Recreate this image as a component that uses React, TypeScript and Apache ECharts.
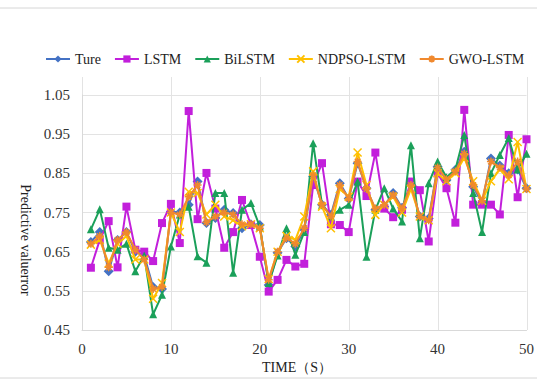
import React, { useEffect, useRef } from "react";
import * as echarts from "echarts";

const seriesNames = ["Ture", "LSTM", "BiLSTM", "NDPSO-LSTM", "GWO-LSTM"];

const ture = [0.675, 0.70, 0.60, 0.68, 0.70, 0.65, 0.64, 0.56, 0.555, 0.752,
  0.75, 0.77, 0.829, 0.723, 0.736, 0.757, 0.749, 0.71, 0.72, 0.718,
  0.565, 0.647, 0.684, 0.663, 0.706, 0.842, 0.77, 0.744, 0.825, 0.786,
  0.876, 0.812, 0.757, 0.765, 0.80, 0.762, 0.82, 0.74, 0.735, 0.867,
  0.833, 0.859, 0.905, 0.816, 0.774, 0.888, 0.87, 0.85, 0.86, 0.812];
const lstm = [0.609, 0.68, 0.728, 0.61, 0.765, 0.655, 0.65, 0.626, 0.723, 0.772,
  0.672, 1.009, 0.733, 0.851, 0.76, 0.66, 0.70, 0.782, 0.718, 0.637,
  0.548, 0.578, 0.629, 0.612, 0.619, 0.82, 0.876, 0.72, 0.718, 0.70,
  0.829, 0.792, 0.903, 0.76, 0.738, 0.757, 0.829, 0.807, 0.676, 0.85,
  0.812, 0.724, 1.012, 0.77, 0.77, 0.77, 0.745, 0.948, 0.789, 0.937];
const bilstm = [0.707, 0.758, 0.66, 0.655, 0.67, 0.60, 0.64, 0.49, 0.54, 0.663,
  0.745, 0.765, 0.638, 0.622, 0.80, 0.80, 0.596, 0.757, 0.774, 0.714,
  0.57, 0.64, 0.71, 0.642, 0.70, 0.927, 0.77, 0.74, 0.757, 0.77,
  0.829, 0.637, 0.757, 0.812, 0.76, 0.727, 0.922, 0.684, 0.825, 0.88,
  0.84, 0.86, 0.948, 0.80, 0.70, 0.85, 0.897, 0.94, 0.86, 0.90];
const ndpso = [0.668, 0.68, 0.62, 0.67, 0.69, 0.63, 0.63, 0.53, 0.57, 0.75,
  0.70, 0.803, 0.80, 0.745, 0.77, 0.74, 0.73, 0.715, 0.72, 0.71,
  0.58, 0.65, 0.69, 0.68, 0.74, 0.855, 0.765, 0.71, 0.81, 0.79,
  0.903, 0.82, 0.744, 0.77, 0.79, 0.75, 0.81, 0.74, 0.73, 0.85,
  0.83, 0.85, 0.89, 0.83, 0.78, 0.83, 0.86, 0.835, 0.93, 0.81];
const gwo = [0.67, 0.69, 0.61, 0.68, 0.70, 0.655, 0.63, 0.555, 0.56, 0.75,
  0.745, 0.79, 0.82, 0.725, 0.74, 0.75, 0.745, 0.72, 0.72, 0.71,
  0.578, 0.65, 0.685, 0.67, 0.71, 0.845, 0.77, 0.74, 0.82, 0.785,
  0.88, 0.81, 0.76, 0.77, 0.795, 0.76, 0.82, 0.74, 0.73, 0.865,
  0.835, 0.855, 0.90, 0.82, 0.78, 0.88, 0.865, 0.845, 0.88, 0.81];

const colors = ["#4472C4", "#C21FDB", "#1BA05A", "#FFC000", "#F0892E"];
const symbols = [
  "diamond",
  "rect",
  "triangle",
  "path://M0,0L10,10M10,0L0,10",
  "path://M5,0L5,10M0,5L10,5M1.5,1.5L8.5,8.5M8.5,1.5L1.5,8.5",
];
const allData = [ture, lstm, bilstm, ndpso, gwo];

const FONT = "Liberation Serif";

export default function App() {
  const ref = useRef<HTMLDivElement>(null);
  useEffect(() => {
    if (!ref.current) return;
    const chart = echarts.init(ref.current, null, { renderer: "svg" });
    const series = allData.map((arr, si) => ({
      name: seriesNames[si],
      type: "line",
      xAxisIndex: 0,
      yAxisIndex: 0,
      data: arr.map((v, i) => [i + 1, v]),
      symbol: symbols[si],
      symbolSize: si === 0 ? 10 : 8,
      showAllSymbol: true,
      lineStyle: { width: 2, color: colors[si] },
      itemStyle: {
        color: colors[si],
        borderColor: colors[si],
        borderWidth: si >= 3 ? 1.5 : 0,
      },
      z: 2 + si,
    }));
    chart.setOption({
      animation: false,
      backgroundColor: "#fff",
      textStyle: { fontFamily: FONT },
      legend: {
        data: seriesNames,
        top: 47,
        left: 40,
        width: 530,
        itemWidth: 24,
        itemHeight: 9,
        itemGap: 13,
        textStyle: { fontFamily: FONT, fontSize: 14, color: "#222" },
      },
      grid: [
        { left: 82, right: 10, top: 95, bottom: 55 },
        { left: 82, right: 10, top: 77, bottom: 55 },
      ],
      xAxis: [
        {
          type: "value",
          gridIndex: 0,
          min: 0,
          max: 50,
          interval: 10,
          axisLine: { show: true, lineStyle: { color: "#d9d9d9" } },
          axisTick: { show: false },
          splitLine: { show: false },
          axisLabel: { fontFamily: FONT, fontSize: 15, color: "#333", margin: 11 },
        },
        {
          type: "value",
          gridIndex: 1,
          min: 0,
          max: 50,
          interval: 10,
          axisLine: { show: false },
          axisTick: { show: false },
          axisLabel: { show: false },
          splitLine: { show: true, lineStyle: { color: "#e3e3e3", width: 1 } },
        },
      ],
      yAxis: [
        {
          type: "value",
          gridIndex: 0,
          min: 0.45,
          max: 1.05,
          interval: 0.1,
          axisLine: { show: true, lineStyle: { color: "#d9d9d9" } },
          axisTick: { show: false },
          splitLine: { show: true, lineStyle: { color: "#e3e3e3", width: 1 } },
          axisLabel: {
            fontFamily: FONT,
            fontSize: 15,
            color: "#333",
            margin: 12,
            formatter: (v: number) => v.toFixed(2),
          },
        },
        {
          type: "value",
          gridIndex: 1,
          min: 0,
          max: 1,
          show: false,
          splitLine: { show: false },
        },
      ],
      graphic: [
        {
          type: "line",
          shape: { x1: 0, y1: 8, x2: 537, y2: 8 },
          style: { stroke: "#d6d6d6", lineWidth: 1 },
        },
        {
          type: "line",
          shape: { x1: 0, y1: 378, x2: 537, y2: 378 },
          style: { stroke: "#d6d6d6", lineWidth: 1 },
        },
        {
          type: "text",
          x: 25,
          y: 240,
          rotation: -Math.PI / 2,
          style: {
            text: "Predictive valuerror",
            font: `14px ${FONT}`,
            fill: "#222",
            align: "center",
            verticalAlign: "middle",
          },
        },
        {
          type: "text",
          x: 297,
          y: 367,
          style: {
            text: "TIME（S）",
            font: `14px ${FONT}`,
            fill: "#222",
            align: "center",
            verticalAlign: "middle",
          },
        },
      ],
      series,
    });
    return () => chart.dispose();
  }, []);
  return (
    <div
      ref={ref}
      style={{ position: "fixed", left: 0, top: 0, width: 537, height: 385 }}
    />
  );
}
